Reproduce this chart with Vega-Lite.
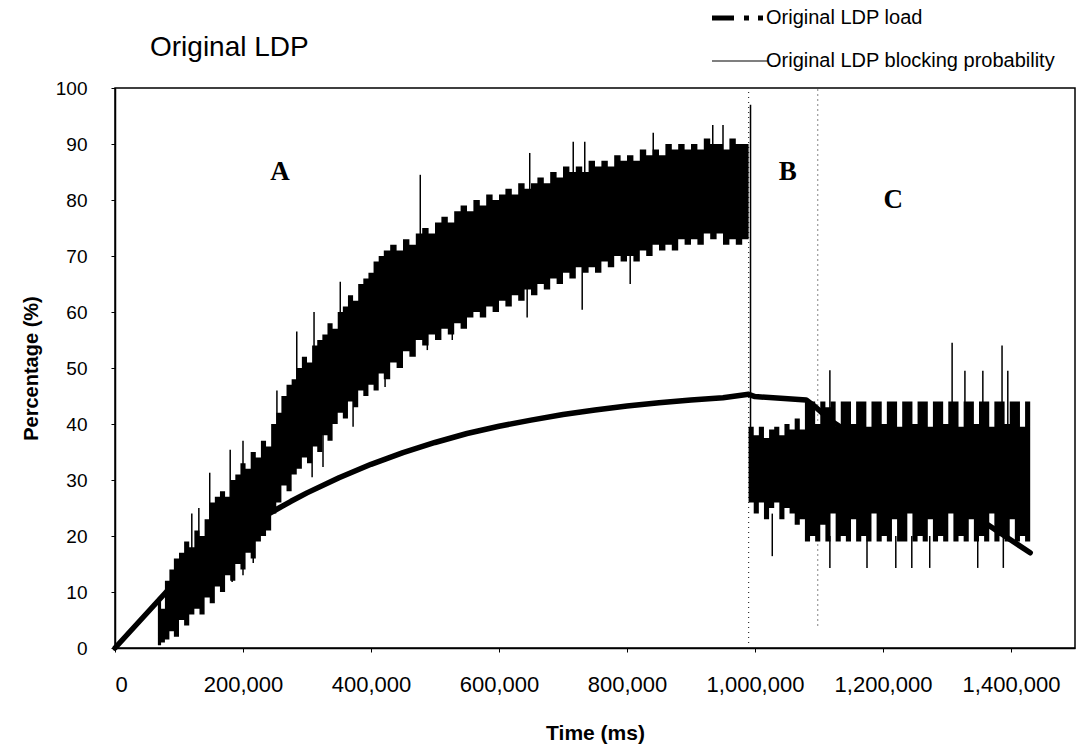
{
  "$schema": "https://vega.github.io/schema/vega-lite/v6.json",
  "width": 960,
  "height": 560,
  "autosize": {"type": "none"},
  "padding": {"left": 115, "top": 88, "right": 6, "bottom": 103},
  "background": "white",
  "title": {"text": "Original LDP", "anchor": "start", "frame": "group", "dx": 35, "dy": 54, "offset": 0, "fontSize": 28, "fontWeight": "normal", "font": "Liberation Sans", "color": "black"},
  "config": {
    "view": {"stroke": "black", "strokeWidth": 1.5},
    "axis": {"domainColor": "black", "domainWidth": 1.5, "tickColor": "black", "tickSize": 4, "grid": false, "labelFont": "Liberation Sans", "labelColor": "black", "titleFont": "Liberation Sans", "titleFontWeight": "bold", "titleColor": "black"}
  },
  "datasets": {
    "band": [
      {"seg":"a","t":67000,"lo":0.5,"hi":9},{"seg":"a","t":72000,"lo":1,"hi":7},{"seg":"a","t":78000,"lo":1.5,"hi":12},{"seg":"a","t":85000,"lo":3,"hi":14},{"seg":"a","t":92000,"lo":2,"hi":16},{"seg":"a","t":100000,"lo":5,"hi":17},{"seg":"a","t":108000,"lo":4,"hi":19},{"seg":"a","t":116000,"lo":6,"hi":18},{"seg":"a","t":124000,"lo":7,"hi":21},{"seg":"a","t":132000,"lo":6,"hi":20},{"seg":"a","t":140000,"lo":9,"hi":23},{"seg":"a","t":148000,"lo":8,"hi":26},{"seg":"a","t":156000,"lo":11,"hi":27},{"seg":"a","t":164000,"lo":10,"hi":28},{"seg":"a","t":172000,"lo":13,"hi":27},{"seg":"a","t":180000,"lo":12,"hi":30},{"seg":"a","t":188000,"lo":15,"hi":31},{"seg":"a","t":196000,"lo":14,"hi":33},{"seg":"a","t":204000,"lo":17,"hi":32},{"seg":"a","t":212000,"lo":16,"hi":35},{"seg":"a","t":220000,"lo":19,"hi":34},{"seg":"a","t":228000,"lo":20,"hi":37},{"seg":"a","t":236000,"lo":21,"hi":36},{"seg":"a","t":244000,"lo":24,"hi":40},{"seg":"a","t":252000,"lo":26,"hi":42},{"seg":"a","t":260000,"lo":29,"hi":45},{"seg":"a","t":268000,"lo":28,"hi":47},{"seg":"a","t":276000,"lo":31,"hi":48},{"seg":"a","t":284000,"lo":32,"hi":50},{"seg":"a","t":292000,"lo":34,"hi":52},{"seg":"a","t":300000,"lo":33,"hi":51},{"seg":"a","t":308000,"lo":36,"hi":54},{"seg":"a","t":316000,"lo":35,"hi":55},{"seg":"a","t":324000,"lo":38,"hi":56},{"seg":"a","t":332000,"lo":37,"hi":58},{"seg":"a","t":340000,"lo":40,"hi":57},{"seg":"a","t":348000,"lo":42,"hi":60},{"seg":"a","t":356000,"lo":41,"hi":61},{"seg":"a","t":364000,"lo":44,"hi":63},{"seg":"a","t":372000,"lo":43,"hi":62},{"seg":"a","t":380000,"lo":46,"hi":65},{"seg":"a","t":388000,"lo":45,"hi":66},{"seg":"a","t":396000,"lo":47,"hi":67},{"seg":"a","t":404000,"lo":46,"hi":69},{"seg":"a","t":412000,"lo":49,"hi":70},{"seg":"a","t":420000,"lo":48,"hi":71},{"seg":"a","t":430000,"lo":51,"hi":72},{"seg":"a","t":440000,"lo":50,"hi":71},{"seg":"a","t":450000,"lo":53,"hi":73},{"seg":"a","t":460000,"lo":52,"hi":72},{"seg":"a","t":470000,"lo":55,"hi":74},{"seg":"a","t":480000,"lo":54,"hi":75},{"seg":"a","t":490000,"lo":56,"hi":74},{"seg":"a","t":500000,"lo":55,"hi":76},{"seg":"a","t":510000,"lo":57,"hi":77},{"seg":"a","t":520000,"lo":56,"hi":76},{"seg":"a","t":530000,"lo":58,"hi":78},{"seg":"a","t":540000,"lo":57,"hi":79},{"seg":"a","t":550000,"lo":59,"hi":78},{"seg":"a","t":560000,"lo":60,"hi":80},{"seg":"a","t":570000,"lo":59,"hi":79},{"seg":"a","t":580000,"lo":61,"hi":81},{"seg":"a","t":590000,"lo":60,"hi":80},{"seg":"a","t":600000,"lo":62,"hi":81},{"seg":"a","t":610000,"lo":61,"hi":82},{"seg":"a","t":620000,"lo":63,"hi":81},{"seg":"a","t":630000,"lo":62,"hi":83},{"seg":"a","t":640000,"lo":64,"hi":82},{"seg":"a","t":650000,"lo":63,"hi":83},{"seg":"a","t":660000,"lo":65,"hi":84},{"seg":"a","t":670000,"lo":64,"hi":83},{"seg":"a","t":680000,"lo":66,"hi":85},{"seg":"a","t":690000,"lo":65,"hi":84},{"seg":"a","t":700000,"lo":67,"hi":86},{"seg":"a","t":710000,"lo":66,"hi":85},{"seg":"a","t":720000,"lo":68,"hi":86},{"seg":"a","t":730000,"lo":67,"hi":85},{"seg":"a","t":740000,"lo":68,"hi":87},{"seg":"a","t":750000,"lo":67,"hi":86},{"seg":"a","t":760000,"lo":69,"hi":87},{"seg":"a","t":770000,"lo":68,"hi":86},{"seg":"a","t":780000,"lo":70,"hi":88},{"seg":"a","t":790000,"lo":69,"hi":87},{"seg":"a","t":800000,"lo":70,"hi":88},{"seg":"a","t":810000,"lo":69,"hi":87},{"seg":"a","t":820000,"lo":71,"hi":89},{"seg":"a","t":830000,"lo":70,"hi":88},{"seg":"a","t":840000,"lo":72,"hi":89},{"seg":"a","t":850000,"lo":71,"hi":88},{"seg":"a","t":860000,"lo":72,"hi":90},{"seg":"a","t":870000,"lo":71,"hi":89},{"seg":"a","t":880000,"lo":73,"hi":90},{"seg":"a","t":890000,"lo":72,"hi":89},{"seg":"a","t":900000,"lo":73,"hi":90},{"seg":"a","t":910000,"lo":72,"hi":89},{"seg":"a","t":920000,"lo":74,"hi":91},{"seg":"a","t":930000,"lo":73,"hi":90},{"seg":"a","t":940000,"lo":74,"hi":90},{"seg":"a","t":950000,"lo":72,"hi":89},{"seg":"a","t":960000,"lo":73,"hi":91},{"seg":"a","t":970000,"lo":72,"hi":90},{"seg":"a","t":980000,"lo":73,"hi":90},{"seg":"a","t":990000,"lo":72,"hi":89},
      {"seg":"bc","t":990000,"lo":26,"hi":39.5},{"seg":"bc","t":998000,"lo":24,"hi":38},{"seg":"bc","t":1006000,"lo":26,"hi":39.5},{"seg":"bc","t":1014000,"lo":23,"hi":37.5},{"seg":"bc","t":1022000,"lo":25,"hi":39},{"seg":"bc","t":1030000,"lo":26,"hi":39.5},{"seg":"bc","t":1038000,"lo":23,"hi":38},{"seg":"bc","t":1046000,"lo":25,"hi":40},{"seg":"bc","t":1054000,"lo":24,"hi":39},{"seg":"bc","t":1062000,"lo":22,"hi":41},{"seg":"bc","t":1070000,"lo":23,"hi":39},{"seg":"bc","t":1078000,"lo":19,"hi":44},{"seg":"bc","t":1086000,"lo":20,"hi":44},{"seg":"bc","t":1094000,"lo":19,"hi":40},{"seg":"bc","t":1102000,"lo":22,"hi":44},{"seg":"bc","t":1110000,"lo":19,"hi":43},{"seg":"bc","t":1118000,"lo":24,"hi":44},{"seg":"bc","t":1126000,"lo":19,"hi":39.5},{"seg":"bc","t":1134000,"lo":20,"hi":44},{"seg":"bc","t":1142000,"lo":19,"hi":44},{"seg":"bc","t":1150000,"lo":23,"hi":40},{"seg":"bc","t":1158000,"lo":19,"hi":44},{"seg":"bc","t":1166000,"lo":20,"hi":44},{"seg":"bc","t":1174000,"lo":19,"hi":39.5},{"seg":"bc","t":1182000,"lo":24,"hi":44},{"seg":"bc","t":1190000,"lo":19,"hi":44},{"seg":"bc","t":1198000,"lo":20,"hi":40},{"seg":"bc","t":1206000,"lo":19,"hi":44},{"seg":"bc","t":1214000,"lo":23,"hi":44},{"seg":"bc","t":1222000,"lo":19,"hi":39.5},{"seg":"bc","t":1230000,"lo":19,"hi":44},{"seg":"bc","t":1238000,"lo":24,"hi":44},{"seg":"bc","t":1246000,"lo":19,"hi":40},{"seg":"bc","t":1254000,"lo":20,"hi":44},{"seg":"bc","t":1262000,"lo":19,"hi":44},{"seg":"bc","t":1270000,"lo":23,"hi":39.5},{"seg":"bc","t":1278000,"lo":19,"hi":44},{"seg":"bc","t":1286000,"lo":20,"hi":44},{"seg":"bc","t":1294000,"lo":19,"hi":40},{"seg":"bc","t":1302000,"lo":24,"hi":44},{"seg":"bc","t":1310000,"lo":19,"hi":44},{"seg":"bc","t":1318000,"lo":20,"hi":39.5},{"seg":"bc","t":1326000,"lo":19,"hi":44},{"seg":"bc","t":1334000,"lo":23,"hi":44},{"seg":"bc","t":1342000,"lo":19,"hi":40},{"seg":"bc","t":1350000,"lo":20,"hi":44},{"seg":"bc","t":1358000,"lo":19,"hi":44},{"seg":"bc","t":1366000,"lo":24,"hi":39.5},{"seg":"bc","t":1374000,"lo":19,"hi":44},{"seg":"bc","t":1382000,"lo":20,"hi":44},{"seg":"bc","t":1390000,"lo":19,"hi":40},{"seg":"bc","t":1398000,"lo":23,"hi":44},{"seg":"bc","t":1406000,"lo":19,"hi":44},{"seg":"bc","t":1414000,"lo":20,"hi":39.5},{"seg":"bc","t":1422000,"lo":19,"hi":44},{"seg":"bc","t":1430000,"lo":19,"hi":44}
    ],
    "spikes": [
      {"series":"Original LDP blocking probability","t":120000,"lo":15,"hi":24},
      {"series":"Original LDP blocking probability","t":131000,"lo":15,"hi":25},
      {"series":"Original LDP blocking probability","t":148000,"lo":20,"hi":31.3},
      {"series":"Original LDP blocking probability","t":180000,"lo":25,"hi":35.4},
      {"series":"Original LDP blocking probability","t":200000,"lo":28,"hi":37},
      {"series":"Original LDP blocking probability","t":253000,"lo":35,"hi":46},
      {"series":"Original LDP blocking probability","t":284000,"lo":45,"hi":56.5},
      {"series":"Original LDP blocking probability","t":311000,"lo":50,"hi":60},
      {"series":"Original LDP blocking probability","t":352000,"lo":55,"hi":65.4},
      {"series":"Original LDP blocking probability","t":477000,"lo":70,"hi":84.5},
      {"series":"Original LDP blocking probability","t":648000,"lo":80,"hi":88.4},
      {"series":"Original LDP blocking probability","t":716000,"lo":82,"hi":90.4},
      {"series":"Original LDP blocking probability","t":734000,"lo":82,"hi":90.4},
      {"series":"Original LDP blocking probability","t":841000,"lo":85,"hi":92},
      {"series":"Original LDP blocking probability","t":934000,"lo":88,"hi":93.4},
      {"series":"Original LDP blocking probability","t":950000,"lo":88,"hi":93.4},
      {"series":"Original LDP blocking probability","t":122000,"lo":6.3,"hi":12},
      {"series":"Original LDP blocking probability","t":183000,"lo":11.8,"hi":18},
      {"series":"Original LDP blocking probability","t":200000,"lo":13,"hi":20},
      {"series":"Original LDP blocking probability","t":216000,"lo":15.2,"hi":22},
      {"series":"Original LDP blocking probability","t":308000,"lo":30.5,"hi":40},
      {"series":"Original LDP blocking probability","t":325000,"lo":32.3,"hi":42},
      {"series":"Original LDP blocking probability","t":372000,"lo":39.5,"hi":50},
      {"series":"Original LDP blocking probability","t":422000,"lo":46.6,"hi":55},
      {"series":"Original LDP blocking probability","t":488000,"lo":53.2,"hi":60},
      {"series":"Original LDP blocking probability","t":527000,"lo":55,"hi":62},
      {"series":"Original LDP blocking probability","t":644000,"lo":59,"hi":68},
      {"series":"Original LDP blocking probability","t":730000,"lo":60.4,"hi":70},
      {"series":"Original LDP blocking probability","t":805000,"lo":65,"hi":73},
      {"series":"Original LDP blocking probability","t":993000,"lo":38,"hi":97},
      {"series":"Original LDP blocking probability","t":1117000,"lo":40,"hi":49.6},
      {"series":"Original LDP blocking probability","t":1308000,"lo":40,"hi":54.5},
      {"series":"Original LDP blocking probability","t":1328000,"lo":40,"hi":49.5},
      {"series":"Original LDP blocking probability","t":1356000,"lo":40,"hi":49.5},
      {"series":"Original LDP blocking probability","t":1386000,"lo":40,"hi":54},
      {"series":"Original LDP blocking probability","t":1395000,"lo":40,"hi":49.5},
      {"series":"Original LDP blocking probability","t":1027000,"lo":16.4,"hi":24},
      {"series":"Original LDP blocking probability","t":1117000,"lo":14.3,"hi":20},
      {"series":"Original LDP blocking probability","t":1175000,"lo":14.3,"hi":20},
      {"series":"Original LDP blocking probability","t":1220000,"lo":14.3,"hi":20},
      {"series":"Original LDP blocking probability","t":1245000,"lo":14.3,"hi":20},
      {"series":"Original LDP blocking probability","t":1273000,"lo":14.3,"hi":20},
      {"series":"Original LDP blocking probability","t":1348000,"lo":14.3,"hi":20},
      {"series":"Original LDP blocking probability","t":1388000,"lo":14.3,"hi":20}
    ],
    "load": [
      {"series":"Original LDP load","t":0,"v":0},{"series":"Original LDP load","t":20000,"v":2.5},{"series":"Original LDP load","t":40000,"v":5},{"series":"Original LDP load","t":60000,"v":7.5},{"series":"Original LDP load","t":80000,"v":10},{"series":"Original LDP load","t":100000,"v":12.2},{"series":"Original LDP load","t":120000,"v":14.3},{"series":"Original LDP load","t":140000,"v":16.2},{"series":"Original LDP load","t":160000,"v":18},{"series":"Original LDP load","t":180000,"v":19.7},{"series":"Original LDP load","t":200000,"v":21.2},{"series":"Original LDP load","t":225000,"v":23},{"series":"Original LDP load","t":250000,"v":24.6},{"series":"Original LDP load","t":275000,"v":26.2},{"series":"Original LDP load","t":300000,"v":27.7},{"series":"Original LDP load","t":350000,"v":30.4},{"series":"Original LDP load","t":400000,"v":32.8},{"series":"Original LDP load","t":450000,"v":34.9},{"series":"Original LDP load","t":500000,"v":36.7},{"series":"Original LDP load","t":550000,"v":38.3},{"series":"Original LDP load","t":600000,"v":39.6},{"series":"Original LDP load","t":650000,"v":40.7},{"series":"Original LDP load","t":700000,"v":41.7},{"series":"Original LDP load","t":750000,"v":42.5},{"series":"Original LDP load","t":800000,"v":43.2},{"series":"Original LDP load","t":850000,"v":43.8},{"series":"Original LDP load","t":900000,"v":44.3},{"series":"Original LDP load","t":950000,"v":44.7},{"series":"Original LDP load","t":990000,"v":45.3},{"series":"Original LDP load","t":1000000,"v":44.9},{"series":"Original LDP load","t":1040000,"v":44.6},{"series":"Original LDP load","t":1080000,"v":44.3},{"series":"Original LDP load","t":1095000,"v":43},{"series":"Original LDP load","t":1117000,"v":40.7},{"series":"Original LDP load","t":1430000,"v":17}
    ],
    "dotted": [
      {"t":990000,"lo":0,"hi":100},
      {"t":1098000,"lo":4,"hi":100}
    ],
    "letters": [
      {"t":258000,"y":85,"label":"A"},
      {"t":1051000,"y":85,"label":"B"},
      {"t":1216000,"y":80,"label":"C"}
    ]
  },
  "layer": [
    {
      "data": {"name": "dotted"},
      "mark": {"type": "rule", "strokeDash": [1, 4], "strokeWidth": 1.2, "color": "#333"},
      "encoding": {
        "x": {"field": "t", "type": "quantitative", "scale": {"domain": [0, 1500000], "nice": false},
              "axis": {"values": [0,200000,400000,600000,800000,1000000,1200000,1400000], "format": ",d", "title": "Time (ms)", "labelFontSize": 22, "labelPadding": 22, "titleFontSize": 21, "titlePadding": 27}},
        "y": {"field": "lo", "type": "quantitative", "scale": {"domain": [0, 100], "nice": false},
              "axis": {"values": [0,10,20,30,40,50,60,70,80,90,100], "title": "Percentage (%)", "labelFontSize": 19, "labelPadding": 24, "titleFontSize": 20, "titlePadding": 14}},
        "y2": {"field": "hi"}
      }
    },
    {
      "data": {"name": "band"},
      "mark": {"type": "area", "interpolate": "step-after", "color": "black"},
      "encoding": {
        "x": {"field": "t", "type": "quantitative"},
        "y": {"field": "lo", "type": "quantitative"},
        "y2": {"field": "hi"},
        "detail": {"field": "seg"}
      }
    },
    {
      "data": {"name": "spikes"},
      "mark": {"type": "rule", "strokeWidth": 1.5},
      "encoding": {
        "x": {"field": "t", "type": "quantitative"},
        "y": {"field": "lo", "type": "quantitative"},
        "y2": {"field": "hi"},
        "color": {"field": "series", "type": "nominal"}
      }
    },
    {
      "data": {"name": "load"},
      "mark": {"type": "line", "strokeWidth": 5.5, "strokeCap": "round", "strokeJoin": "round"},
      "encoding": {
        "x": {"field": "t", "type": "quantitative"},
        "y": {"field": "v", "type": "quantitative"},
        "color": {"field": "series", "type": "nominal",
          "scale": {"domain": ["Original LDP load", "Original LDP blocking probability"], "range": ["black", "black"]},
          "legend": {"title": null, "orient": "none", "legendX": 615, "legendY": -80, "symbolType": "stroke", "symbolSize": 3136, "symbolStrokeWidth": 1.2, "labelFont": "Liberation Sans", "labelFontSize": 20, "labelColor": "black", "labelOffset": 16, "labelLimit": 500, "rowPadding": 23,
            "encode": {"symbols": {"update": {"strokeDash": {"signal": "datum.value == 'Original LDP load' ? [22,10,5,9,5,5] : [1,0]"}, "strokeWidth": {"signal": "datum.value == 'Original LDP load' ? 5 : 1.2"}}}}}
        }
      }
    },
    {
      "data": {"name": "letters"},
      "mark": {"type": "text", "font": "Liberation Serif", "fontWeight": "bold", "fontSize": 27, "color": "black", "align": "center", "baseline": "middle"},
      "encoding": {
        "x": {"field": "t", "type": "quantitative"},
        "y": {"field": "y", "type": "quantitative"},
        "text": {"field": "label"}
      }
    }
  ]
}
